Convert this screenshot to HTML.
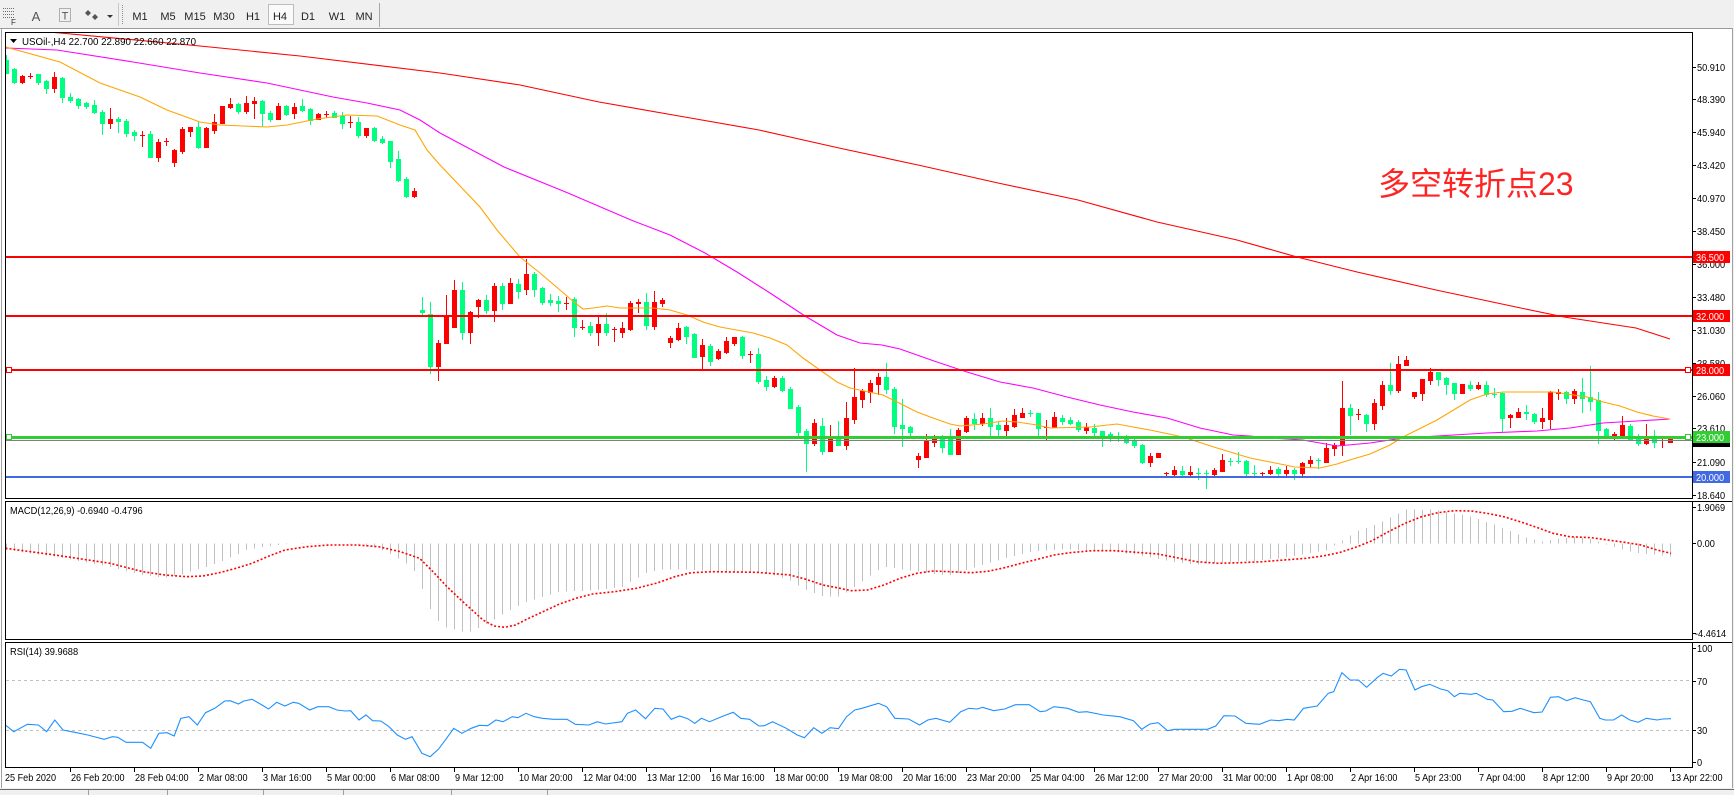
<!DOCTYPE html>
<html><head><meta charset="utf-8">
<style>
html,body{margin:0;padding:0;background:#fff;}
body{width:1734px;height:795px;overflow:hidden;}
svg{display:block;}
text{font-family:"Liberation Sans","Noto Sans CJK SC",sans-serif;}
</style></head><body>
<svg id="s" width="1734" height="795" viewBox="0 0 1734 795" xmlns="http://www.w3.org/2000/svg">
<defs>
<clipPath id="cm"><rect x="6" y="33" width="1686" height="465"/></clipPath>
<clipPath id="cd"><rect x="6" y="502" width="1686" height="137"/></clipPath>
<clipPath id="cr"><rect x="6" y="643" width="1686" height="124"/></clipPath>
</defs>
<rect width="1734" height="795" fill="#fff"/>
<!-- toolbar -->
<rect x="0" y="0" width="1734" height="28" fill="#F0F0F0"/>
<line x1="0" y1="28.5" x2="1734" y2="28.5" stroke="#9A9A9A"/>
<g shape-rendering="crispEdges" stroke="#707070" stroke-dasharray="1,1">
<line x1="3" y1="8.5" x2="14" y2="8.5"/><line x1="3" y1="11.5" x2="14" y2="11.5"/><line x1="3" y1="14.5" x2="14" y2="14.5"/><line x1="3" y1="17.5" x2="14" y2="17.5"/>
<rect x="59.5" y="8.5" width="11" height="13" fill="none"/>
</g>
<text x="11" y="25" font-size="8" fill="#333">F</text>
<text x="36" y="21" font-size="13" fill="#555" text-anchor="middle">A</text>
<text x="65" y="19.5" font-size="11" fill="#555" text-anchor="middle">T</text>
<path d="M88 10 l3 3 l-3 3 l-3 -3z M95 14 l3 3 l-3 3 l-3 -3z" fill="#555"/>
<path d="M107 15 h6 l-3 3z" fill="#333"/>
<line x1="118.5" y1="3" x2="118.5" y2="26" stroke="#C8C8C8"/>
<line x1="122.5" y1="5" x2="122.5" y2="24" stroke="#909090" stroke-dasharray="1,1"/>
<rect x="268.5" y="4.5" width="25" height="20" fill="#FAFAFA" stroke="#BDBDBD"/>
<g font-size="11" fill="#222" text-anchor="middle">
<text x="140" y="20">M1</text><text x="168" y="20">M5</text><text x="195" y="20">M15</text><text x="224" y="20">M30</text><text x="253" y="20">H1</text><text x="280" y="20">H4</text><text x="308" y="20">D1</text><text x="337" y="20">W1</text><text x="364" y="20">MN</text>
</g>
<line x1="379.5" y1="3" x2="379.5" y2="27" stroke="#A8A8A8"/>
<!-- window edges -->
<line x1="1.5" y1="29" x2="1.5" y2="788" stroke="#A0A0A0"/>
<line x1="1732.5" y1="28" x2="1732.5" y2="795" stroke="#A0A0A0"/>
<rect x="1733" y="0" width="1" height="795" fill="#F0F0F0"/>

<!-- panel frames -->
<g fill="none" stroke="#000" shape-rendering="crispEdges">
<rect x="5.5" y="32.5" width="1687" height="466"/>
<rect x="5.5" y="501.5" width="1687" height="138"/>
<rect x="5.5" y="642.5" width="1687" height="125"/>
<line x1="1692" y1="501.5" x2="1732" y2="501.5"/>
<line x1="1692" y1="642.5" x2="1732" y2="642.5"/>
</g>

<g id="candles" clip-path="url(#cm)" shape-rendering="crispEdges"></g>
<g id="mas" clip-path="url(#cm)" fill="none" stroke-width="1.1"></g>

<!-- title -->
<path d="M10 39 h7 l-3.5 4z" fill="#000"/>
<text transform="translate(22,45) scale(0.93,1)" font-size="10.5" fill="#000">USOil-,H4  22.700 22.890 22.660 22.870</text>

<!-- horizontal objects -->
<g shape-rendering="crispEdges">
<line x1="6" y1="257" x2="1692" y2="257" stroke="#FF0000" stroke-width="2"/>
<line x1="6" y1="316" x2="1692" y2="316" stroke="#FF0000" stroke-width="2"/>
<line x1="6" y1="370" x2="1692" y2="370" stroke="#FF0000" stroke-width="2"/>
<line x1="6" y1="440.5" x2="1692" y2="440.5" stroke="#808080" stroke-width="1"/>
<line x1="6" y1="437.5" x2="1692" y2="437.5" stroke="#32CD32" stroke-width="3"/>
<line x1="6" y1="477" x2="1692" y2="477" stroke="#4169E1" stroke-width="2"/>
<rect x="6.5" y="367.5" width="5" height="5" fill="#fff" stroke="#FF0000"/>
<rect x="1685.5" y="367.5" width="5" height="5" fill="#fff" stroke="#FF0000"/>
<rect x="6.5" y="434.5" width="5" height="5" fill="#fff" stroke="#32CD32"/>
<rect x="1685.5" y="434.5" width="5" height="5" fill="#fff" stroke="#32CD32"/>
</g>

<text x="1378" y="195" font-size="32" fill="#FF2424" font-family="'Liberation Sans','Noto Sans CJK SC',sans-serif">多空转折点23</text>

<!-- right axis main -->
<g id="axis" font-size="10" fill="#000"></g>

<g id="macd" clip-path="url(#cd)"></g>
<text transform="translate(10,514) scale(0.93,1)" font-size="10" fill="#000">MACD(12,26,9) -0.6940 -0.4796</text>

<g clip-path="url(#cr)">
<line x1="6" y1="680.5" x2="1692" y2="680.5" stroke="#C0C0C0" stroke-dasharray="3,3"/>
<line x1="6" y1="730.5" x2="1692" y2="730.5" stroke="#C0C0C0" stroke-dasharray="3,3"/>
<g id="rsi"></g>
</g>
<text transform="translate(10,655) scale(0.93,1)" font-size="10" fill="#000">RSI(14) 39.9688</text>

<g id="xaxis" font-size="10" fill="#000"></g>

<!-- bottom bar -->
<rect x="0" y="788" width="1734" height="7" fill="#F0F0F0"/>
<line x1="0" y1="789.5" x2="1734" y2="789.5" stroke="#6A6A6A"/>
<g stroke="#A0A0A0" shape-rendering="crispEdges">
<line x1="88.5" y1="790" x2="88.5" y2="795"/><line x1="167.5" y1="790" x2="167.5" y2="795"/><line x1="263.5" y1="790" x2="263.5" y2="795"/><line x1="343.5" y1="790" x2="343.5" y2="795"/><line x1="451.5" y1="790" x2="451.5" y2="795"/><line x1="547.5" y1="790" x2="547.5" y2="795"/>
</g>
</svg>
<script>
(function(){
var NS="http://www.w3.org/2000/svg";
function el(t,a,p){var e=document.createElementNS(NS,t);for(var k in a)e.setAttribute(k,a[k]);p.appendChild(e);return e;}
function $(id){return document.getElementById(id);}
var C=[
[0,60,73,55,73],[0,69,82,68,83],[1,76,82,75,83],[1,76,76,73,78],[0,74,82,74,84],
[0,81,88,80,93],[1,77,88,72,92],[0,78,97,77,102],[0,97,100,93,102],[0,99,105,98,108],
[0,103,106,102,108],[0,105,112,100,113],[0,112,123,110,134],[1,119,123,108,128],[0,119,121,117,132],
[0,121,133,119,136],[0,132,135,130,140],[1,135,135,131,146],[0,134,157,131,157],[1,142,157,139,161],
[1,141,141,138,145],[1,150,162,149,166],[1,129,151,127,153],[1,127,131,127,136],[0,127,147,122,148],
[1,128,147,127,147],[1,122,130,114,133],[1,106,123,106,123],[1,104,107,98,108],[0,104,111,103,113],
[1,103,111,96,113],[1,101,103,97,118],[0,101,113,100,126],[0,113,119,111,121],[1,106,119,103,119],
[0,106,114,105,115],[1,107,113,103,118],[0,106,110,99,111],[0,109,120,108,124],[1,114,119,113,119],
[1,114,114,111,117],[0,113,117,111,117],[0,116,123,112,128],[1,122,122,116,127],[0,122,135,117,137],
[1,128,135,128,137],[0,128,140,127,141],[0,139,142,136,143],[0,141,161,141,167],[0,159,180,151,181],
[0,179,196,177,197],[1,191,196,188,197],[0,310,312,297,314],[0,314,366,302,373],[1,343,366,340,380],
[1,317,343,295,343],[1,290,327,280,327],[0,290,332,282,339],[1,312,332,311,343],[1,300,306,299,317],
[0,300,310,295,313],[1,286,310,283,321],[0,286,303,283,309],[1,283,303,278,303],[0,284,291,279,298],
[1,274,289,259,294],[0,274,289,272,296],[0,288,302,287,304],[0,300,302,294,305],[0,301,303,296,311],
[1,303,303,297,309],[0,299,327,297,336],[1,327,327,320,329],[0,326,332,322,335],[1,324,332,315,345],
[0,324,332,313,335],[1,329,329,327,341],[1,328,332,322,337],[1,303,329,301,330],[1,302,303,299,312],
[0,302,325,293,329],[1,302,326,291,329],[1,300,303,298,306],[1,338,342,336,347],[1,328,339,323,340],
[0,327,336,326,343],[0,334,357,333,357],[1,345,356,339,369],[0,346,361,344,365],[1,351,358,349,359],
[1,341,352,337,353],[1,337,343,337,345],[0,337,355,336,358],[1,354,354,351,362],[0,354,381,348,383],
[0,380,386,376,390],[1,378,386,376,387],[0,378,390,376,391],[0,389,408,387,408],[0,407,432,405,436],
[0,431,443,429,471],[1,423,443,419,445],[0,426,451,418,454],[1,438,451,425,451],[0,437,445,421,445],
[1,418,445,402,449],[1,397,419,368,423],[1,391,399,389,407],[1,383,392,380,402],[1,377,384,373,394],
[0,377,389,363,393],[0,389,426,387,433],[0,425,428,399,446],[0,427,432,426,435],[1,456,459,453,467],
[1,441,457,434,457],[1,438,442,435,446],[0,437,447,435,452],[0,437,454,429,454],[1,430,454,428,454],
[1,418,431,416,432],[0,419,423,413,429],[1,418,423,413,425],[0,418,426,408,436],[0,425,429,421,436],
[1,425,430,418,436],[1,415,426,409,427],[1,413,417,408,417],[0,413,413,410,416],[0,413,428,413,436],
[1,427,427,420,439],[1,417,427,412,427],[0,418,421,415,424],[0,420,423,417,424],[0,422,429,420,431],
[1,427,430,423,433],[0,428,432,424,435],[0,431,435,431,446],[0,434,437,432,441],[0,437,437,432,441],
[0,436,442,435,443],[0,441,445,438,447],[0,445,462,444,463],[1,456,462,453,466],[1,453,457,453,457],
[1,473,473,472,475],[1,470,474,466,475],[0,471,474,466,476],[1,472,474,466,475],[0,473,473,468,479],
[0,473,473,470,488],[1,470,474,468,476],[1,460,471,454,471],[0,461,461,458,465],[0,461,461,452,463],
[0,461,473,460,475],[0,473,473,465,476],[1,473,473,472,475],[1,470,473,466,474],[0,469,473,467,477],
[1,470,473,466,477],[0,470,473,468,479],[1,463,473,462,477],[1,460,463,456,467],[0,460,460,458,468],
[1,448,462,443,462],[1,445,448,443,455],[1,408,445,381,455],[0,408,415,404,434],[1,414,414,409,419],
[0,415,423,414,431],[1,403,423,399,429],[1,385,405,381,409],[0,385,390,363,394],[1,364,390,356,392],
[1,360,365,356,365],[1,392,396,392,398],[1,379,393,379,400],[1,372,380,368,384],[0,372,379,372,385],
[0,378,384,377,394],[0,383,393,383,399],[1,384,393,384,393],[0,385,388,381,390],[1,385,388,382,389],
[0,385,394,381,396],[0,394,394,388,397],[0,393,418,392,431],[1,415,417,414,427],[1,412,417,408,417],
[0,412,413,405,419],[0,414,421,413,423],[1,418,421,408,428],[1,392,419,391,428],[1,392,393,389,399],
[0,392,398,391,403],[1,391,398,389,403],[0,392,398,378,412],[0,397,401,366,410],[0,400,430,392,443],
[0,429,435,428,436],[1,434,436,432,440],[1,425,435,416,435],[0,426,439,424,440],[0,437,443,434,445],
[1,437,443,424,444],[0,437,442,430,447],[1,440,440,437,447],[1,437,442,437,442]
];
var gC=$('candles');
C.forEach(function(d,k){
  var x=6+8*k, col=d[0]?'#FF0000':'#00FF80';
  el('rect',{x:x,y:d[3],width:1,height:Math.max(1,d[4]-d[3]+1),fill:col},gC);
  el('rect',{x:x-2,y:d[1],width:5,height:Math.max(1,d[2]-d[1]+1),fill:col},gC);
});
function pts(a){return a.map(function(p){return p[0]+','+p[1];}).join(' ');}
var red=[[40,31],[60,33],[200,46],[300,56],[440,73],[520,85],[599,102],[679,116],[759,130],[839,148],[918,165],[998,183],[1078,200],[1157,222],[1237,240],[1297,257],[1357,272],[1436,290],[1516,307],[1564,317],[1636,328],[1670,339]];
var mag=[[6,48],[57,50],[133,62],[200,73],[267,83],[333,97],[367,103],[400,110],[420,120],[440,133],[504,167],[568,193],[631,220],[670,235],[705,253],[737,272],[770,293],[805,316],[837,335],[860,343],[882,345],[900,349],[934,361],[967,372],[1000,382],[1033,388],[1067,397],[1100,405],[1133,412],[1167,418],[1200,428],[1233,435],[1250,436],[1270,438],[1303,440],[1337,446],[1370,443],[1403,438],[1437,436],[1487,433],[1537,431],[1570,428],[1603,423],[1637,421],[1670,419]];
var org=[[6,47],[60,62],[100,83],[140,97],[167,110],[200,122],[220,125],[267,127],[287,125],[317,119],[347,115],[377,116],[400,125],[415,130],[427,150],[440,165],[460,186],[480,207],[497,230],[520,257],[540,273],[560,290],[575,303],[583,309],[593,308],[607,306],[620,308],[653,308],[670,310],[687,315],[703,322],[720,327],[753,333],[770,338],[787,345],[803,358],[820,370],[837,382],[850,388],[883,395],[917,412],[933,418],[950,424],[960,426],[983,424],[1003,421],[1017,422],[1037,425],[1050,428],[1090,427],[1117,424],[1133,427],[1150,430],[1183,437],[1217,448],[1250,458],[1270,462],[1295,467],[1320,468],[1337,464],[1353,459],[1370,454],[1390,445],[1403,437],[1437,420],[1470,400],[1487,394],[1503,392],[1537,392],[1553,392],[1587,397],[1603,402],[1620,406],[1637,412],[1653,416],[1670,419]];
var gM=$('mas');
el('polyline',{points:pts(red),stroke:'#FF0000'},gM);
el('polyline',{points:pts(mag),stroke:'#FF00FF'},gM);
el('polyline',{points:pts(org),stroke:'#FFA500'},gM);

// right axis labels
var gA=$('axis');
var L=[["50.910",67],["48.390",99],["45.940",132],["43.420",165],["40.970",198],["38.450",231],["36.000",264],["33.480",297],["31.030",330],["28.580",363],["26.060",396],["23.610",428],["21.090",462],["18.640",495],
["1.9069",507],["0.00",543],["-4.4614",633],["100",648],["70",681],["30",730],["0",762]];
L.forEach(function(l){
  el('line',{x1:1692,y1:l[1]+0.5,x2:1696,y2:l[1]+0.5,stroke:'#000','shape-rendering':'crispEdges'},gA);
  var t=el('text',{transform:'translate('+(l[0].charAt(0)=='-'?1695:1697)+','+(l[1]+4)+') scale(0.92,1)'},gA);
  t.textContent=l[0];
});
var B=[["36.500",257,"#FF0000"],["32.000",316,"#FF0000"],["28.000",370,"#FF0000"],["23.000",437,"#32CD32"],["20.000",477,"#4169E1"]];
el('rect',{x:1693,y:442,width:37,height:5,fill:'#000'},gA);
B.forEach(function(b){
  el('rect',{x:1693,y:b[1]-6,width:37,height:12,fill:b[2]},gA);
  var t=el('text',{transform:'translate(1696,'+(b[1]+4)+') scale(0.92,1)',fill:'#fff'},gA);
  t.textContent=b[0];
});

// MACD
var H=[[5.5,550],[55,556.7],[110,566.7],[143,575],[165,577.7],[181,575],[189,571.7],[208,566.7],[222,561],[236,555],[247,550],[263,546.7],[285,544],[307,542.7],[357,544],[373,546.7],[389,553],[406,563],[414,570],[422,588],[431,610],[439,621.7],[447,627.7],[462,631.7],[471,631.7],[479,628],[494,620],[510,610],[527,601.7],[543,596.7],[560,591.7],[592,590.7],[623,586.7],[631,581.7],[647,572.7],[664,569.3],[686,569.3],[719,571.7],[752,571.7],[773,575],[790,580],[806,590],[823,596],[839,596.7],[845.5,593],[862,581.7],[878,570],[887,566.7],[911,570.7],[944,575],[952,575],[977,566.7],[1005,558.3],[1032,551.7],[1065,549.3],[1081,550],[1114,551.7],[1144,556],[1169,561],[1191,564],[1199,564.3],[1224,562.3],[1257,560.7],[1279,558.3],[1303.5,554.3],[1328,550],[1334,546],[1342,540.7],[1358,530.7],[1375,525],[1391,517.3],[1408,509],[1424,510],[1432,509.3],[1449,512.7],[1465,515],[1479,519.3],[1495.5,525],[1512,531.7],[1526,537.3],[1542,541.7],[1550,540],[1575,536.7],[1591.5,539.3],[1608,545],[1624,550],[1641,553.3],[1657,555],[1671,556.7]];
function interp(a,x){
  if(x<=a[0][0])return a[0][1];
  for(var i=1;i<a.length;i++){if(x<=a[i][0]){var p=a[i-1],q=a[i];return p[1]+(q[1]-p[1])*(x-p[0])/(q[0]-p[0]);}}
  return a[a.length-1][1];
}
var gD=$('macd'), z=543.5;
for(var k=0;k<209;k++){
  var x=6+8*k+0.5, y=interp(H,x);
  el('line',{x1:x,y1:z,x2:x,y2:y,stroke:'#C0C0C0','stroke-width':1,'shape-rendering':'crispEdges'},gD);
}
var S=[[5.5,548.3],[55,555],[110,563.3],[143,571.7],[165,575],[186.5,576.7],[203,576],[219.4,572.7],[236,568.3],[252,563.3],[269,556],[285,550],[307,546.7],[329,545],[356.6,545],[378.5,546.7],[400.4,551.7],[419.6,558.3],[433,571.7],[447,586.7],[461,600],[472,610],[483,620],[494,626],[504.7,627.3],[515.6,625],[526.6,619.3],[543,611.7],[559.5,604],[576,598.3],[592.4,594],[614.4,591.7],[636.3,588.3],[658,582.7],[674.7,576.7],[691,572.7],[713,571.7],[757,572.3],[790,575],[806,579.3],[823,585],[840,588.3],[851,590.7],[867.4,590],[884,585],[900,578.3],[916.8,573.3],[933,571],[949.7,571.7],[971.6,572.7],[988,571.3],[1004.6,567.7],[1021,563.3],[1037.5,559.3],[1054,555],[1070,552.7],[1092,550.7],[1114,550.7],[1136,552.3],[1158,554],[1174.6,557.3],[1196.6,561.7],[1218.5,563.3],[1240,562.7],[1262,561.7],[1284,560],[1306,558.3],[1322.7,556],[1339,552.7],[1355.6,547.3],[1372,540.7],[1388.5,531.7],[1405,523.3],[1421.5,516.7],[1438,512.7],[1454,510.7],[1471,511],[1487,513.3],[1503.7,516.7],[1520,521.7],[1536.6,527.3],[1553,533.3],[1569.6,536.7],[1591.5,537.7],[1608,540],[1624.4,542.3],[1641,545],[1657,550],[1671,553.3]];
el('polyline',{points:pts(S),fill:'none',stroke:'#FF0000','stroke-width':1.6,'stroke-dasharray':'2,2'},gD);

// RSI
var R1=[[10,675],[25,695],[50,673],[70,675],[85,695],[100,660],[115,690],[140,698],[160,705],[190,718],[205,710],[215,712],[230,727],[260,727],[275,745],[290,700],[305,698],[318,708],[330,655],[345,650],[360,675],[375,638],[392,625],[410,603],[420,602],[435,612],[445,603],[460,598],[475,612],[490,627],[505,607],[520,618],[535,607],[545,610],[565,630],[580,620],[600,620],[615,630],[630,633],[640,632],[655,660],[668,645],[680,662],[695,663],[710,680],[725,705],[740,718],[752,710],[770,760],[785,770],[800,748],[815,715],[828,685],[843,700],[860,685],[875,676],[890,677],[905,660],[918,665],[935,650],[945,653],[960,640],[975,650],[990,655],[1010,658],[1035,658],[1050,673],[1075,675],[1090,665],[1105,672],[1135,665],[1145,640],[1160,630],[1178,656],[1195,625],[1210,627],[1225,658],[1240,648],[1255,656],[1268,670],[1280,655],[1295,665],[1320,648],[1338,637],[1352,655],[1368,658],[1385,678],[1395,677],[1410,665],[1435,685],[1455,705],[1468,713],[1485,683],[1500,700],[1515,683],[1530,686],[1545,650],[1560,630]];
var R2=[[40,625],[70,610],[85,620],[100,655],[125,657],[145,675],[160,660],[175,655],[200,667],[220,635],[235,625],[250,627],[260,622],[280,632],[300,627],[320,614],[345,614],[365,635],[375,633],[390,620],[415,625],[435,637],[450,635],[480,645],[510,650],[535,662],[550,688],[565,672],[580,668],[597,692],[610,688],[640,688],[670,688],[685,678],[700,647],[720,648],[740,670],[765,673],[785,660],[800,662],[815,658],[828,660],[845,625],[870,618],[890,580],[900,575],[915,518],[930,540],[945,540],[960,562],[980,532],[990,520],[1005,528],[1020,508],[1032,510],[1048,570],[1060,560],[1075,553],[1095,567],[1108,572],[1120,590],[1130,580],[1150,583],[1160,580],[1180,598],[1190,600],[1210,635],[1225,634],[1240,625],[1265,638],[1280,636],[1295,592],[1310,590],[1325,602],[1340,593],[1355,600],[1368,605],[1385,655],[1395,660],[1410,660],[1425,645],[1440,660],[1455,667],[1470,655],[1490,660],[1500,657],[1515,656]];
var RP=R1.map(function(p){return [(p[0]/1.825).toFixed(1),(500+p[1]/3).toFixed(1)];}).concat(R2.map(function(p){return [(840+p[0]/1.823).toFixed(1),(500+p[1]/3).toFixed(1)];}));
RP.unshift([6,(500+675/3).toFixed(1)]);
el('polyline',{points:pts(RP),fill:'none',stroke:'#1E90FF','stroke-width':1.1},$('rsi'));

// x axis
var X=["25 Feb 2020","26 Feb 20:00","28 Feb 04:00","2 Mar 08:00","3 Mar 16:00","5 Mar 00:00","6 Mar 08:00","9 Mar 12:00","10 Mar 20:00","12 Mar 04:00","13 Mar 12:00","16 Mar 16:00","18 Mar 00:00","19 Mar 08:00","20 Mar 16:00","23 Mar 20:00","25 Mar 04:00","26 Mar 12:00","27 Mar 20:00","31 Mar 00:00","1 Apr 08:00","2 Apr 16:00","5 Apr 23:00","7 Apr 04:00","8 Apr 12:00","9 Apr 20:00","13 Apr 22:00"];
var gX=$('xaxis');
X.forEach(function(s,j){
  var x=6+64*j;
  if(j>0)el('line',{x1:x+0.5,y1:768,x2:x+0.5,y2:772,stroke:'#000','shape-rendering':'crispEdges'},gX);
  var t=el('text',{transform:'translate('+(j==0?5:x+1)+',781) scale(0.91,1)'},gX);
  t.textContent=s;
});
})();
</script>
</body></html>
